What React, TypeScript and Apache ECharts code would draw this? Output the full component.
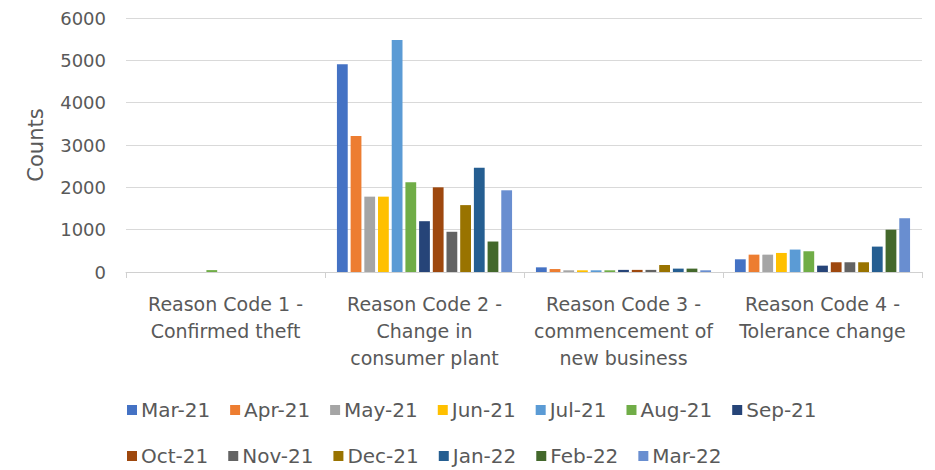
import React, { useEffect, useRef } from "react";
import * as echarts from "echarts";

const categories = [
  "Reason Code 1 -\nConfirmed theft",
  "Reason Code 2 -\nChange in\nconsumer plant",
  "Reason Code 3 -\ncommencement of\nnew business",
  "Reason Code 4 -\nTolerance change",
];

const seriesNames = [
  "Mar-21", "Apr-21", "May-21", "Jun-21", "Jul-21", "Aug-21", "Sep-21",
  "Oct-21", "Nov-21", "Dec-21", "Jan-22", "Feb-22", "Mar-22",
];

const seriesColors = [
  "#4472C4", "#ED7D31", "#A5A5A5", "#FFC000", "#5B9BD5", "#70AD47", "#264478",
  "#9E480E", "#636363", "#997300", "#255E91", "#43682B", "#698ED0",
];

// values per series: [RC1, RC2, RC3, RC4]
const mar21 = [0, 4910, 110, 300];
const apr21 = [0, 3210, 70, 410];
const may21 = [0, 1780, 40, 410];
const jun21 = [0, 1780, 40, 450];
const jul21 = [0, 5480, 40, 530];
const aug21 = [45, 2120, 40, 490];
const sep21 = [0, 1200, 50, 150];
const oct21 = [0, 2000, 50, 230];
const nov21 = [0, 950, 50, 230];
const dec21 = [0, 1580, 165, 230];
const jan22 = [0, 2460, 80, 600];
const feb22 = [0, 720, 80, 1000];
const mar22 = [0, 1930, 40, 1270];

const seriesValues = [mar21, apr21, may21, jun21, jul21, aug21, sep21, oct21, nov21, dec21, jan22, feb22, mar22];

const yTicks = { min: 0, max: 6000, interval: 1000 };

const FONT = "DejaVu Sans";
const TXT = "#595959";

export default function App() {
  const ref = useRef<HTMLDivElement>(null);
  useEffect(() => {
    if (!ref.current) return;
    const chart = echarts.init(ref.current, undefined, { renderer: "svg" });
    const legendBase = {
      orient: "horizontal" as const,
      left: 122,
      padding: [2, 5, 2, 5],
      itemWidth: 10,
      itemHeight: 10,
      itemGap: 20,
      icon: "rect",
      textStyle: { color: TXT, fontSize: 20, fontFamily: FONT, padding: [0, 0, 0, -1] },
    };
    chart.setOption({
      animation: false,
      backgroundColor: "#ffffff",
      textStyle: { fontFamily: FONT },
      grid: { left: 126, right: 13, top: 18, bottom: 198, containLabel: false },
      legend: [
        { ...legendBase, top: 398, data: seriesNames.slice(0, 7) },
        { ...legendBase, top: 444, data: seriesNames.slice(7) },
      ],
      xAxis: {
        type: "category",
        data: categories,
        boundaryGap: true,
        axisLine: { show: true, lineStyle: { color: "#d0d0d0", width: 1 } },
        axisTick: { show: true, alignWithLabel: false, length: 6, lineStyle: { color: "#d0d0d0" } },
        axisLabel: {
          color: TXT,
          fontSize: 19,
          fontFamily: FONT,
          lineHeight: 27,
          margin: 18,
          interval: 0,
          align: "center",
        },
      },
      yAxis: {
        type: "value",
        min: yTicks.min,
        max: yTicks.max,
        interval: yTicks.interval,
        name: "Counts",
        nameLocation: "middle",
        nameGap: 80,
        nameTextStyle: { color: TXT, fontSize: 21, fontFamily: FONT },
        axisLine: { show: false },
        axisTick: { show: false },
        splitLine: { show: true, lineStyle: { color: "#d9d9d9", width: 1 } },
        axisLabel: {
          color: TXT,
          fontSize: 18,
          fontFamily: FONT,
          margin: 20,
          formatter: (v: number) => String(v),
        },
      },
      series: seriesNames.map((name, i) => ({
        name,
        type: "bar",
        data: seriesValues[i],
        itemStyle: { color: seriesColors[i] },
        barGap: "27%",
        barCategoryGap: "12%",
      })),
    });
    return () => chart.dispose();
  }, []);
  return (
    <div
      ref={ref}
      style={{ position: "fixed", left: 0, top: 0, width: 935, height: 470 }}
    />
  );
}
